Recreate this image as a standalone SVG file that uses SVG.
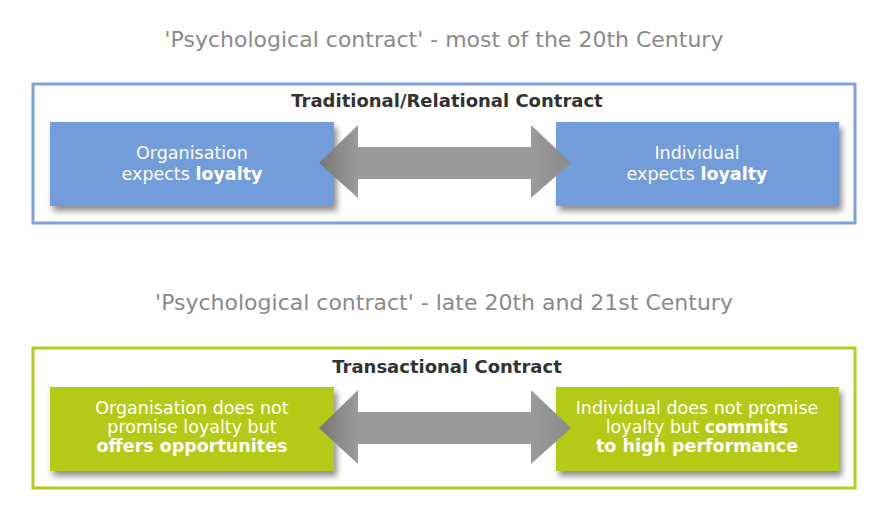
<svg xmlns="http://www.w3.org/2000/svg" width="886" height="507" viewBox="0 0 886 507">
<defs>
<filter id="sh" x="-10%" y="-20%" width="125%" height="150%">
<feGaussianBlur in="SourceAlpha" stdDeviation="3"/>
<feOffset dx="3" dy="5" result="b"/>
<feComponentTransfer><feFuncA type="linear" slope="0.45"/></feComponentTransfer>
<feMerge><feMergeNode/><feMergeNode in="SourceGraphic"/></feMerge>
</filter>
<linearGradient id="ag" x1="0" y1="0" x2="1" y2="0">
<stop offset="0" stop-color="#777"/>
<stop offset="0.15" stop-color="#9a9a9a"/>
<stop offset="0.85" stop-color="#9a9a9a"/>
<stop offset="1" stop-color="#8a8a8a"/>
</linearGradient>
</defs>
<style>
text{font-family:"DejaVu Sans",Verdana,sans-serif;}
.title{font-size:22px;fill:#8a8a8a;text-anchor:middle;}
.head{font-size:18px;font-weight:bold;fill:#333;text-anchor:middle;}
.bt{font-size:17.5px;fill:#fff;text-anchor:middle;}
.b{font-weight:bold;}
.blue{fill:#739cdb;}
.green{fill:#b5ca17;}
.arrow{fill:url(#ag);}
</style>
<rect width="886" height="507" fill="#fff"/>
<g id="section1">
<text class="title" x="444" y="47">'Psychological contract' - most of the 20th Century</text>
<rect x="33" y="84" width="822" height="139" fill="none" stroke="#7ea3dc" stroke-width="3"/>
<text class="head" x="447" y="107">Traditional/Relational Contract</text>
</g>
<g id="node-org1">
<rect class="blue" x="50" y="122" width="284" height="84" filter="url(#sh)"/>
<text class="bt" x="192" y="159">Organisation</text>
<text class="bt" x="192" y="180">expects <tspan class="b">loyalty</tspan></text>
</g>
<g id="node-ind1">
<rect class="blue" x="556" y="122" width="283" height="84" filter="url(#sh)"/>
<text class="bt" x="697" y="159">Individual</text>
<text class="bt" x="697" y="180">expects <tspan class="b">loyalty</tspan></text>
</g>
<g id="section2">
<text class="title" x="444" y="310">'Psychological contract' - late 20th and 21st Century</text>
<rect x="33" y="348" width="822" height="140" fill="none" stroke="#b8cc1e" stroke-width="3"/>
<text class="head" x="447" y="373">Transactional Contract</text>
</g>
<g id="node-org2">
<rect class="green" x="50" y="387" width="284" height="84" filter="url(#sh)"/>
<text class="bt" x="192" y="414">Organisation does not</text>
<text class="bt" x="192" y="433">promise loyalty but</text>
<text class="bt b" x="192" y="452">offers opportunites</text>
</g>
<g id="node-ind2">
<rect class="green" x="556" y="387" width="283" height="84" filter="url(#sh)"/>
<text class="bt" x="697" y="414">Individual does not promise</text>
<text class="bt" x="697" y="433">loyalty but <tspan class="b">commits</tspan></text>
<text class="bt b" x="697" y="452">to high performance</text>
</g>
<g id="connectors">
<polygon class="arrow" points="319,163 358,125 358,147 531,147 531,125 571,163 531,198 531,179 358,179 358,198"/>
<polygon class="arrow" points="319,428 358,390 358,412 531,412 531,390 571,428 531,464 531,444 358,444 358,464"/>
</g>
</svg>
